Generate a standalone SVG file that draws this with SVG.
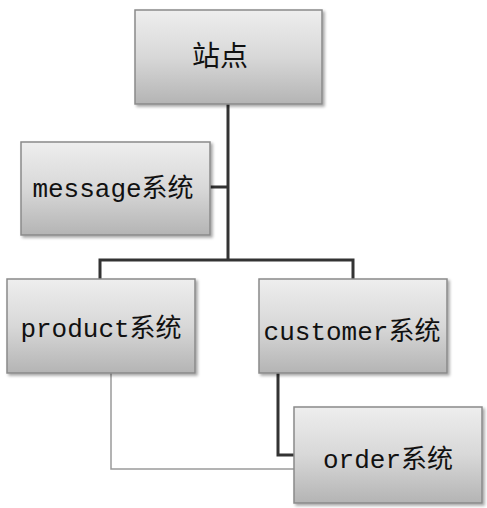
<svg xmlns="http://www.w3.org/2000/svg" width="487" height="508" viewBox="0 0 487 508">
<defs>
<linearGradient id="g" x1="0" y1="0" x2="0" y2="1">
<stop offset="0" stop-color="#eeeeee"/>
<stop offset="0.5" stop-color="#d8d8d8"/>
<stop offset="1" stop-color="#b4b4b4"/>
</linearGradient>
<filter id="sh" x="-10%" y="-10%" width="125%" height="125%">
<feDropShadow dx="2" dy="2" stdDeviation="1.5" flood-color="#000" flood-opacity="0.35"/>
</filter>
</defs>
<style>
.box{fill:url(#g);stroke:#8a8a8a;stroke-width:1.5;filter:url(#sh)}
.t{font-family:"Liberation Mono","Noto Sans CJK SC",monospace;font-size:26px;fill:#111;text-anchor:middle;dominant-baseline:central}
.dark{fill:none;stroke:#333;stroke-width:3}
.thin{fill:none;stroke:#9a9a9a;stroke-width:1.5}
</style>
<g id="connectors">
<path class="dark" d="M228,104 V260"/>
<path class="dark" d="M210,187 H228"/>
<path class="dark" d="M100,279 V260 H353 V279"/>
<path class="dark" d="M278,373 V455 H295"/>
<path class="thin" d="M111,373 V469 H294"/>
</g>
<g id="n-site">
<rect class="box" x="135" y="10" width="187" height="94"/>
<text class="t" x="220" y="58" style="font-size:28px">站点</text>
</g>
<g id="n-message">
<rect class="box" x="21" y="142" width="189" height="93"/>
<text class="t" x="113" y="190">message系统</text>
</g>
<g id="n-product">
<rect class="box" x="7" y="279" width="188" height="94"/>
<text class="t" x="101" y="330">product系统</text>
</g>
<g id="n-customer">
<rect class="box" x="259" y="279" width="188" height="94"/>
<text class="t" x="352" y="333">customer系统</text>
</g>
<g id="n-order">
<rect class="box" x="294" y="407" width="188" height="96"/>
<text class="t" x="388" y="461">order系统</text>
</g>
</svg>
